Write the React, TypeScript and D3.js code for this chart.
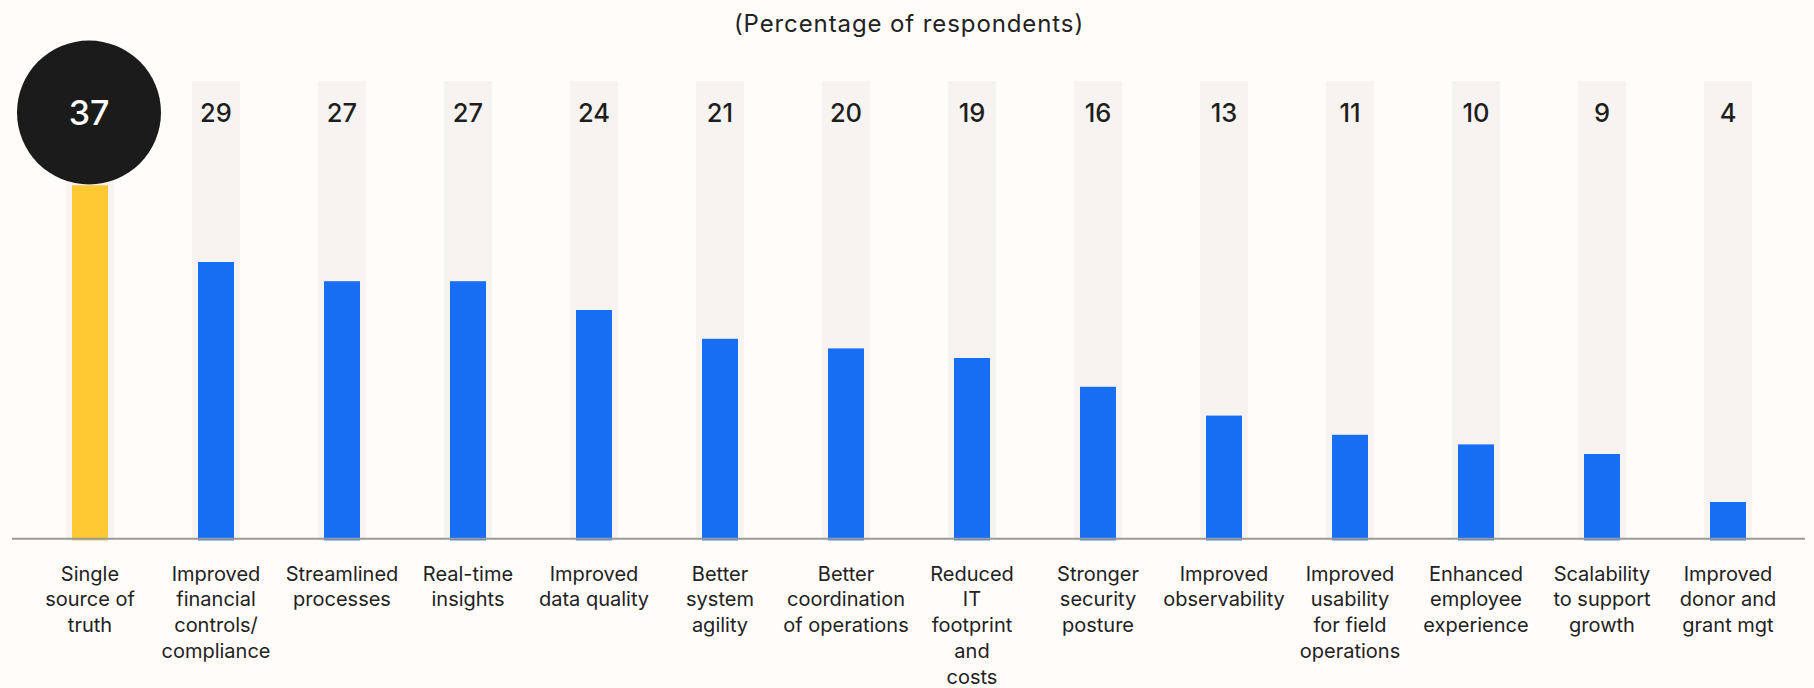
import React from "react";
import * as d3 from "d3";

const categories: string[][] = [
  ["Single", "source of", "truth"],
  ["Improved", "financial", "controls/", "compliance"],
  ["Streamlined", "processes"],
  ["Real-time", "insights"],
  ["Improved", "data quality"],
  ["Better", "system", "agility"],
  ["Better", "coordination", "of operations"],
  ["Reduced", "IT", "footprint", "and", "costs"],
  ["Stronger", "security", "posture"],
  ["Improved", "observability"],
  ["Improved", "usability", "for field", "operations"],
  ["Enhanced", "employee", "experience"],
  ["Scalability", "to support", "growth"],
  ["Improved", "donor and", "grant mgt"],
];
const values: number[] = [37, 29, 27, 27, 24, 21, 20, 19, 16, 13, 11, 10, 9, 4];
const title = "(Percentage of respondents)";
const backgroundMax = 47.85;

const W = 1814;
const H = 688;
const FONT = "Inter, 'Noto Sans', sans-serif";

export default function App() {
  const x = d3
    .scaleBand<number>()
    .domain(values.map((_, i) => i))
    .range([27, 27 + 126 * values.length])
    .padding(0);
  const y = d3.scaleLinear().domain([0, 10]).range([540.4, 444.4]);
  const bgW = 48;
  const barW = 36;

  return (
    <svg
      width={W}
      height={H}
      style={{ position: "absolute", left: 0, top: 0, display: "block" }}
    >
      <rect x={0} y={0} width={W} height={H} fill="#fffcf9" />
      <text
        x={909}
        y={32}
        textAnchor="middle"
        fontFamily={FONT}
        fontSize={24}
        letterSpacing={0.9}
        fill="#222"
      >
        {title}
      </text>
      {values.map((v, i) => {
        const cx = (x(i) as number) + x.bandwidth() / 2;
        const top = y(backgroundMax);
        return (
          <g key={i}>
            <rect
              x={cx - bgW / 2}
              y={top}
              width={bgW}
              height={y(0) - top}
              fill="#f6f3f0"
            />
            <rect
              x={cx - barW / 2}
              y={y(v)}
              width={barW}
              height={y(0) - y(v)}
              fill={i === 0 ? "#ffc933" : "#176ef3"}
            />
          </g>
        );
      })}
      <line x1={12} x2={1805} y1={538.7} y2={538.7} stroke="#9b9b9b" strokeWidth={2} />
      {values.map((v, i) => {
        const cx = (x(i) as number) + x.bandwidth() / 2;
        if (i === 0) {
          return (
            <g key={"l" + i}>
              <circle cx={cx - 1} cy={112.5} r={72} fill="#1b1b1b" />
              <text
                x={cx - 1}
                y={112.5}
                dy="0.36em"
                textAnchor="middle"
                fontFamily={FONT}
                fontSize={34}
                fontWeight={500}
                fill="#fff"
              >
                {v}
              </text>
            </g>
          );
        }
        return (
          <text
            key={"l" + i}
            x={cx}
            y={113}
            dy="0.36em"
            textAnchor="middle"
            fontFamily={FONT}
            fontSize={25.5}
            fontWeight={500}
            fill="#1e1e1e"
          >
            {v}
          </text>
        );
      })}
      {categories.map((lines, i) => {
        const cx = (x(i) as number) + x.bandwidth() / 2;
        return (
          <text
            key={"c" + i}
            textAnchor="middle"
            fontFamily={FONT}
            fontSize={20}
            fill="#222"
          >
            {lines.map((ln, j) => (
              <tspan key={j} x={cx} y={580.5 + j * 25.9}>
                {ln}
              </tspan>
            ))}
          </text>
        );
      })}
    </svg>
  );
}
